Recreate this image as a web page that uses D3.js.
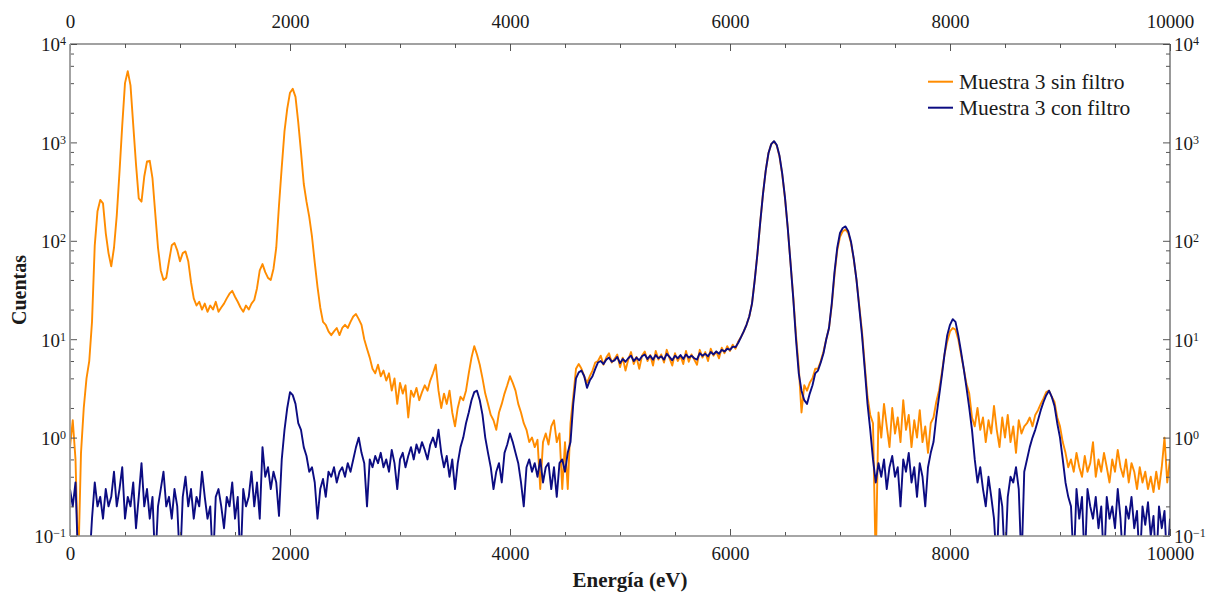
<!DOCTYPE html>
<html><head><meta charset="utf-8">
<script src="https://cdn.jsdelivr.net/npm/d3@7"></script>
<style>
body{margin:0;background:#fff}
text{font-family:"Liberation Serif","Times New Roman",serif;fill:#1a1a1a}
</style>
</head><body>
<svg id="c" width="1206" height="592"></svg>
<script>
// ---- data ----
const energyStart = 0, energyStep = 25; // eV per channel bin
const sinFiltro = [
0.8,1.5,0.6,0.05,0.7,2.0,4.0,6.0,15,90,200,260,240,120,75,55,85,180,500,1500,
4000,5300,3800,1500,600,270,250,450,640,650,430,190,85,50,40,42,62,90,95,80,
62,75,78,62,38,26,22,24,20,23,19,22,20,24,19,21,23,26,29,31,
27,24,21,19,22,20,23,25,33,50,58,48,42,40,52,85,230,560,1300,2200,
3200,3500,2900,1600,800,380,250,175,110,60,34,21,15,14,12,11,12,13,11,13,
14,13,15,17,18,16,14,10,8,6.5,5.0,4.5,5.5,4.2,4.8,3.8,4.5,3.0,4.0,2.2,
3.6,2.8,3.4,1.6,3.0,2.6,3.2,2.4,2.9,3.4,3.0,3.8,4.5,5.5,3.0,2.0,2.8,2.2,3.0,1.8,
1.3,2.0,2.6,2.4,3.0,4.5,6.5,8.5,7.0,5.5,4.0,2.8,2.2,1.7,1.5,1.2,1.8,2.2,2.8,3.4,
4.2,3.6,3.0,2.2,1.8,1.4,1.2,0.9,1.0,0.8,0.95,0.3,0.9,1.1,0.85,1.3,1.5,0.9,1.1,0.3,
0.9,0.3,1.4,2.6,5.0,5.6,5.0,4.2,3.6,4.2,4.8,5.8,6.0,6.8,5.5,6.5,7.2,5.8,6.3,7.0,
5.2,6.5,4.8,6.2,7.4,5.6,6.6,5.0,6.8,7.5,6.0,6.9,5.4,7.6,6.2,7.0,5.8,7.8,6.4,5.4,
7.2,6.0,6.8,5.6,7.6,5.9,7.0,6.2,5.5,7.8,6.5,7.4,6.0,8.0,6.8,7.5,6.4,8.2,7.2,8.5,
7.6,8.8,8.0,9.5,10.5,12,14,17,23,40,75,155,300,520,780,960,1020,930,720,470,
270,135,60,27,11,5.2,1.8,3.4,3.0,3.6,4.0,5.0,5.0,6.0,7.5,10,13,22,45,80,
110,125,130,120,95,65,40,22,12,5.5,2.6,1.7,1.4,0.05,1.8,1.0,2.2,1.3,0.8,2.0,
1.1,1.6,0.9,2.4,1.2,1.7,0.8,1.5,1.0,1.9,0.9,1.3,0.7,1.4,1.6,2.3,3.0,4.5,7.0,9.5,
12,13,12.5,10,7.0,5.0,3.5,2.8,1.6,1.3,2.0,1.2,1.6,0.9,1.5,1.1,2.1,1.2,0.8,1.6,
1.0,1.7,0.9,1.3,0.7,1.5,1.1,1.3,1.4,1.6,1.3,1.7,1.9,2.2,2.5,2.9,3.0,2.6,2.3,1.6,
1.3,0.9,0.7,0.5,0.6,0.45,0.7,0.5,0.4,0.65,0.45,0.55,0.9,0.4,0.6,0.45,0.7,0.5,0.35,0.6,
0.45,0.75,0.5,0.4,0.6,0.35,0.55,0.45,0.3,0.5,0.35,0.45,0.3,0.4,0.28,0.45,0.3,0.5,1.0,0.35,
0.6
];
const conFiltro = [
0.3,0.2,0.35,0.05,0.05,0.05,0.05,0.05,0.15,0.35,0.2,0.25,0.15,0.3,0.2,0.25,0.45,0.2,0.3,0.5,
0.15,0.25,0.2,0.35,0.12,0.25,0.55,0.2,0.3,0.15,0.25,0.05,0.2,0.3,0.45,0.2,0.25,0.15,0.3,0.2,
0.05,0.25,0.4,0.2,0.3,0.15,0.25,0.2,0.45,0.25,0.15,0.2,0.05,0.25,0.3,0.2,0.12,0.25,0.2,0.35,
0.15,0.25,0.05,0.3,0.2,0.25,0.45,0.2,0.35,0.15,0.8,0.4,0.5,0.3,0.45,0.35,0.16,0.6,1.2,2.0,
2.9,2.7,2.2,1.4,1.2,0.8,0.65,0.45,0.5,0.35,0.15,0.3,0.38,0.25,0.45,0.4,0.5,0.35,0.45,0.5,
0.4,0.55,0.45,0.6,0.8,1.0,0.7,0.55,0.2,0.6,0.5,0.65,0.55,0.7,0.5,0.6,0.45,0.75,0.55,0.3,
0.6,0.7,0.5,0.65,0.8,0.6,0.85,0.7,0.9,0.75,0.6,0.85,1.0,0.8,1.2,0.7,0.5,0.65,0.4,0.6,
0.3,0.55,0.8,1.0,1.4,1.8,2.4,2.9,3.0,2.4,1.7,1.0,0.7,0.5,0.3,0.45,0.55,0.35,0.7,0.85,
1.1,0.9,0.7,0.55,0.35,0.2,0.5,0.6,0.45,0.55,0.4,0.6,0.35,0.5,0.55,0.3,0.5,0.25,0.55,0.6,
0.45,0.7,0.9,2.2,4.0,4.6,4.8,4.2,3.2,3.8,4.2,5.0,5.8,6.0,5.6,6.2,6.5,5.9,6.1,6.6,
5.7,6.3,5.9,6.4,6.8,6.0,6.5,6.1,6.7,7.0,6.3,6.8,6.2,6.9,6.4,6.7,6.2,7.1,6.6,6.1,
6.8,6.4,6.9,6.3,7.0,6.5,6.8,6.4,6.2,7.2,6.8,7.1,6.7,7.4,7.0,7.5,7.1,7.8,7.5,8.0,
7.8,8.4,8.3,9.2,10.5,12,14,17,23,40,75,155,300,520,780,960,1030,940,730,480,
275,135,60,26,10,4.5,3.0,2.4,2.2,2.8,3.4,4.5,4.8,5.8,7.2,10,13,23,48,85,
120,135,140,125,98,66,40,21,11,5.0,2.2,1.2,0.6,0.35,0.55,0.4,0.6,0.3,0.5,0.65,
0.4,0.5,0.2,0.6,0.45,0.7,0.35,0.5,0.25,0.55,0.4,0.2,0.5,0.7,0.9,1.6,2.6,4.2,7.0,11,
14,16,15,11,7.5,5.0,3.2,2.0,1.2,0.6,0.35,0.5,0.3,0.2,0.4,0.25,0.15,0.05,0.3,0.2,
0.05,0.25,0.4,0.35,0.5,0.3,0.05,0.45,0.6,0.8,1.0,1.2,1.5,1.9,2.3,2.7,3.0,2.6,2.1,1.4,
1.0,0.6,0.35,0.25,0.2,0.05,0.3,0.15,0.25,0.05,0.3,0.2,0.15,0.25,0.12,0.2,0.05,0.25,0.15,0.2,
0.12,0.3,0.15,0.05,0.2,0.15,0.25,0.12,0.18,0.05,0.2,0.13,0.22,0.1,0.16,0.05,0.2,0.12,0.18,0.05,
0.15
];
const xTickValues = [0,2000,4000,6000,8000,10000];
const yTickExponents = [-1,0,1,2,3,4];
const seriesNames = ["Muestra 3 sin filtro","Muestra 3 con filtro"];
const seriesColors = ["#ff8c00","#0c0c82"];
const xLabel = "Energía (eV)", yLabel = "Cuentas";

// ---- layout ----
const W = 1206, H = 592, m = {l:70, r:36, t:44, b:56};
const x = d3.scaleLinear().domain([0,10000]).range([m.l, W-m.r]);
const y = d3.scaleLog().domain([0.1,1e4]).range([H-m.b, m.t]);
const svg = d3.select('#c');

svg.append('defs').append('clipPath').attr('id','clip').append('rect')
  .attr('x',x(0)).attr('y',y(1e4)).attr('width',x(10000)-x(0)).attr('height',y(0.1)-y(1e4));

const line = d3.line()
  .x((d,i)=>x(energyStart+i*energyStep))
  .y(d=>y(Math.max(d,0.05)));
const plot = svg.append('g').attr('clip-path','url(#clip)');
[sinFiltro, conFiltro].forEach((s,k)=>{
  plot.append('path').datum(s).attr('d',line).attr('fill','none')
    .attr('stroke',seriesColors[k]).attr('stroke-width',1.9).attr('stroke-linejoin','round');
});

// ---- axes ----
const xMinor = d3.range(0,10001,500).filter(v=>v%2000!==0);
const yMajor = yTickExponents.map(e=>Math.pow(10,e));
const yMinor = [];
yTickExponents.slice(0,-1).forEach(e=>[2,4,6,8].forEach(k=>yMinor.push(k*Math.pow(10,e))));

function styleAxis(g){ g.select('.domain').remove(); g.selectAll('.tick line').attr('stroke','#555').attr('stroke-width',1); }
const fmt = d3.format('d');
svg.append('g').attr('transform',`translate(0,${y(0.1)})`)
  .call(d3.axisBottom(x).tickValues(xTickValues).tickSize(-7).tickSizeOuter(0).tickPadding(11).tickFormat(fmt)).call(styleAxis);
svg.append('g').attr('transform',`translate(0,${y(0.1)})`)
  .call(d3.axisBottom(x).tickValues(xMinor).tickSize(-4).tickSizeOuter(0).tickFormat('')).call(styleAxis);
svg.append('g').attr('transform',`translate(0,${y(1e4)})`)
  .call(d3.axisTop(x).tickValues(xTickValues).tickSize(-7).tickSizeOuter(0).tickPadding(16).tickFormat(fmt)).call(styleAxis);
svg.append('g').attr('transform',`translate(0,${y(1e4)})`)
  .call(d3.axisTop(x).tickValues(xMinor).tickSize(-4).tickSizeOuter(0).tickFormat('')).call(styleAxis);
svg.selectAll('.tick text').style('font-size','19px');

function powLabels(g, anchor, dx){
  g.selectAll('.tick').each(function(d){
    const t = d3.select(this).append('text').attr('x',dx).attr('dy','0.36em')
      .attr('text-anchor',anchor).style('font-size','19px');
    t.append('tspan').text('10');
    t.append('tspan').attr('dy','-0.5em').style('font-size','12px')
      .text(String(Math.round(Math.log10(d))).replace('-','\u2212'));
  });
}
const gl = svg.append('g').attr('transform',`translate(${x(0)},0)`)
  .call(d3.axisLeft(y).tickValues(yMajor).tickSize(-7).tickSizeOuter(0).tickFormat('')).call(styleAxis);
powLabels(gl,'end',-4);
svg.append('g').attr('transform',`translate(${x(0)},0)`)
  .call(d3.axisLeft(y).tickValues(yMinor).tickSize(-4).tickSizeOuter(0).tickFormat('')).call(styleAxis);
const gr = svg.append('g').attr('transform',`translate(${x(10000)},0)`)
  .call(d3.axisRight(y).tickValues(yMajor).tickSize(-7).tickSizeOuter(0).tickFormat('')).call(styleAxis);
powLabels(gr,'start',4);
svg.append('g').attr('transform',`translate(${x(10000)},0)`)
  .call(d3.axisRight(y).tickValues(yMinor).tickSize(-4).tickSizeOuter(0).tickFormat('')).call(styleAxis);

// frame
const x0=x(0), x1=x(10000), y0=y(0.1), y1=y(1e4);
svg.append('line').attr('x1',x0).attr('x2',x1).attr('y1',y1).attr('y2',y1).attr('stroke','#444').attr('stroke-width',1.2);
svg.append('line').attr('x1',x1).attr('x2',x1).attr('y1',y1).attr('y2',y0).attr('stroke','#555').attr('stroke-width',1.2);
svg.append('line').attr('x1',x0).attr('x2',x1).attr('y1',y0).attr('y2',y0).attr('stroke','#888').attr('stroke-width',1.5);
svg.append('line').attr('x1',x0).attr('x2',x0).attr('y1',y1).attr('y2',y0).attr('stroke','#999').attr('stroke-width',1.8);

// axis titles
svg.append('text').attr('x',630).attr('y',587).attr('text-anchor','middle')
  .style('font-size','21px').style('font-weight','bold').text(xLabel);
svg.append('text').attr('transform',`translate(26,${(y0+y1)/2}) rotate(-90)`).attr('text-anchor','middle')
  .style('font-size','20px').style('font-weight','bold').text(yLabel);

// legend
seriesNames.forEach((n,k)=>{
  const ly = 81.7 + k*26;
  svg.append('line').attr('x1',928).attr('x2',953).attr('y1',ly).attr('y2',ly)
    .attr('stroke',seriesColors[k]).attr('stroke-width',2);
  svg.append('text').attr('x',959).attr('y',ly+6.8).style('font-size','21.5px').text(n);
});
</script>
</body></html>
